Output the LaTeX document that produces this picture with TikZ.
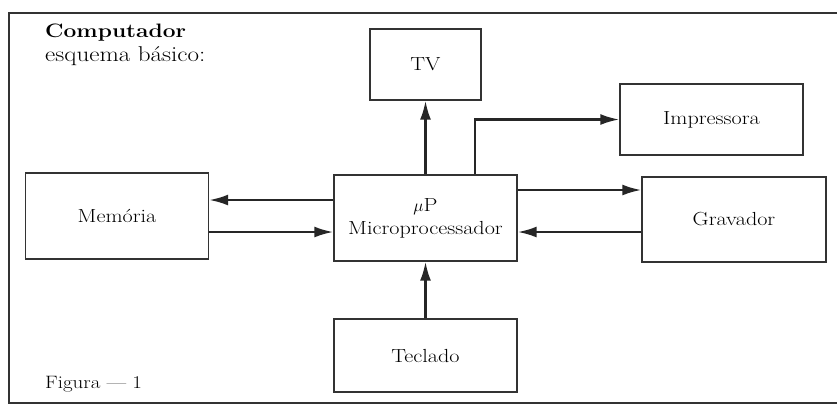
\documentclass[tikz,border=0pt]{standalone}
\usepackage{fontspec}
\setmainfont{Latin Modern Roman}[FakeStretch=1.17]
\usetikzlibrary{arrows.meta}
\tikzset{
    bloco/.style={draw=black!80, line width=1.4pt, minimum width=183bp, minimum height=86bp,
        inner sep=0pt, font=\fontsize{19}{22}\selectfont, align=center},
    seta/.style={line width=2.4pt, draw=black!85, -{Latex[length=19bp,width=11bp]}},
    rotulo/.style={anchor=base west, inner sep=0pt, font=\fontsize{21.5}{24}\selectfont}
}
\begin{document}
\begin{tikzpicture}[x=1bp, y=-1bp]
    \useasboundingbox (0,0) rectangle (837,405);
    \fill[white] (0,0) rectangle (837,405);

    % Moldura da figura (aberta a direita)
    \draw[line width=1.4pt, black!80] (837,13) -- (9,13) -- (9,403) -- (837,403);

    % Titulo e legenda
    \node[rotulo, font=\fontsize{19.5}{22}\selectfont\bfseries] (titulo) at (45,37) {Computador};
    \node[rotulo] (subtitulo) at (45,61) {esquema b\'asico:};
    \node[rotulo, font=\fontsize{18}{21}\selectfont] (legenda) at (45,388) {Figura --- 1};

    % Blocos do esquema
    \node[bloco, minimum width=111bp, minimum height=71bp] (tv) at (425.5,64.5) {TV};
    \node[bloco, minimum height=71bp] (imp) at (711.5,119.5) {Impressora};
    \node[bloco] (mp) at (425.5,218) {$\mu$P\\[1pt]Microprocessador};
    \node[bloco] (mem) at (117,216) {Mem\'oria};
    \node[bloco, minimum width=184bp, minimum height=85bp] (grav) at (734,219.5) {Gravador};
    \node[bloco, minimum height=73bp] (tec) at (425.5,355.5) {Teclado};

    % Ligacoes
    \draw[seta] (mp.north) -- (tv.south);
    \draw[seta] (mp.north -| 475,0) |- (imp.west);
    \draw[seta] (mp.east |- 0,190) -- (grav.west |- 0,190);
    \draw[seta] (grav.west |- 0,232) -- (mp.east |- 0,232);
    \draw[seta] (mp.west |- 0,200) -- (mem.east |- 0,200);
    \draw[seta] (mem.east |- 0,232) -- (mp.west |- 0,232);
    \draw[seta] (tec.north) -- (mp.south);
\end{tikzpicture}
\end{document}
